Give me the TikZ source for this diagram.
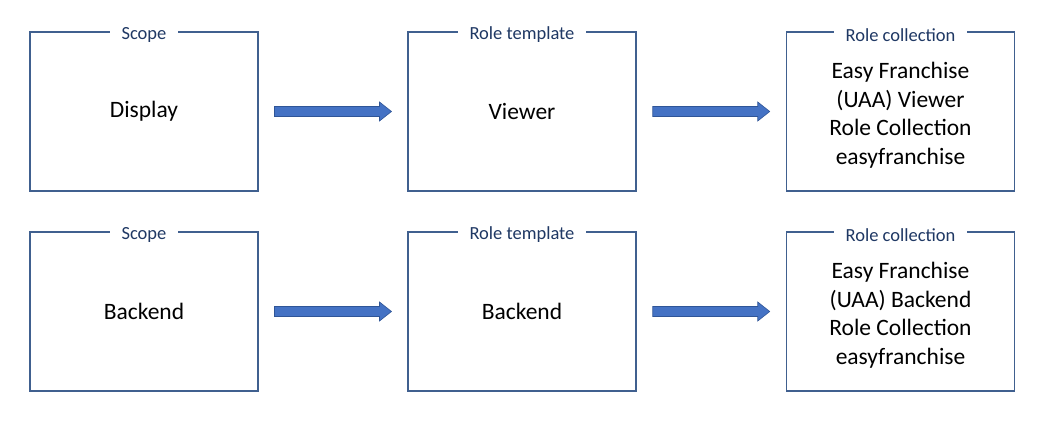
\documentclass[tikz,border=0pt]{standalone}
\usepackage{fontspec}
\setmainfont{Carlito}
\usetikzlibrary{calc}
\definecolor{boxline}{HTML}{40608F}
\definecolor{titleblue}{HTML}{1F3864}
\definecolor{arrowfill}{HTML}{4472C4}
\definecolor{arrowline}{HTML}{2F5597}
\tikzset{
    box/.style={draw=boxline, line width=1.1pt, minimum width=228pt, minimum height=159pt,
        align=center, font=\fontsize{23.5}{28.5}\selectfont},
    boxtitle/.style={fill=white, inner xsep=12pt, inner ysep=1pt, yshift=-3.5pt, text=titleblue,
        font=\fontsize{18.5}{22}\selectfont},
    blockarrow/.style={draw=arrowline, fill=arrowfill, line width=0.6pt, line join=miter}
}
\newcommand{\blockarrowat}[1]{%
    \draw [blockarrow] ($(#1)+(-58.5, -5)$) -- ++(105, 0) -- ++(0, -4.5) -- ++(12, 9.5)
        -- ++(-12, 9.5) -- ++(0, -4.5) -- ++(-105, 0) -- cycle;}
\begin{document}
\begin{tikzpicture}[x=1pt, y=-1pt]
        \useasboundingbox (0, 0) rectangle (1059, 435);
        % first row
        \node [box] (scope1) at (144, 111.5) {Display};
        \node [box] (tmpl1) at (522, 111.5) {Viewer};
        \node [box] (coll1) at (900.5, 111.5) {\rule{0pt}{24pt}Easy Franchise\\(UAA) Viewer\\Role Collection\\easyfranchise};
        % second row
        \node [box] (scope2) at (144, 311.5) {Backend};
        \node [box] (tmpl2) at (522, 311.5) {Backend};
        \node [box] (coll2) at (900.5, 311.5) {\rule{0pt}{24pt}Easy Franchise\\(UAA) Backend\\Role Collection\\easyfranchise};
        \foreach \row in {1, 2} {
            \node [boxtitle] (scopetitle\row) at (scope\row.north) {Scope};
            \node [boxtitle] (tmpltitle\row) at (tmpl\row.north) {Role template};
            \node [boxtitle] (colltitle\row) at (coll\row.north) {Role collection};
            \coordinate (arrowa\row) at ($(scope\row.east)!0.5!(tmpl\row.west)$);
            \coordinate (arrowb\row) at ($(tmpl\row.east)!0.5!(coll\row.west)$);
            \blockarrowat{arrowa\row}
            \blockarrowat{arrowb\row}
        }
    \end{tikzpicture}
\end{document}
